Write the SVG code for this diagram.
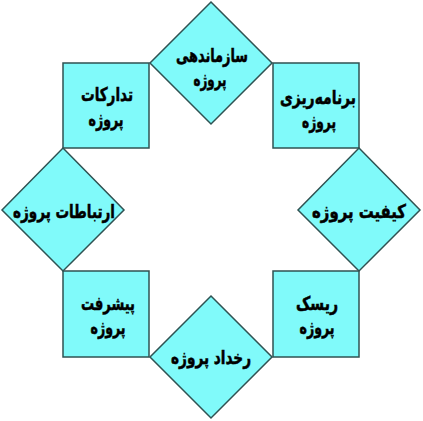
<svg xmlns="http://www.w3.org/2000/svg" width="423" height="421" viewBox="0 0 423 421">
<style>
.s{fill:#80FAFA;stroke:#2F5252;stroke-width:1.5}
.t{font-family:"DejaVu Sans Condensed","DejaVu Sans",sans-serif;font-weight:bold;font-size:19px;fill:#000;stroke:#000;stroke-width:0.5;text-anchor:middle;direction:rtl}
</style>
<rect width="423" height="421" fill="#fff"/>
<g id="connectors"></g>
<g id="n-top"><polygon class="s" points="211,2 272,63 211,124 150,63"/><text class="t" x="212" y="62" textLength="72" lengthAdjust="spacingAndGlyphs">سازماندهی</text><text class="t" x="210" y="86" textLength="33" lengthAdjust="spacingAndGlyphs">پروژه</text></g>
<g id="n-tr"><rect class="s" x="273" y="63" width="86" height="85"/><text class="t" x="318" y="104" textLength="76" lengthAdjust="spacingAndGlyphs">برنامه‌ریزی</text><text class="t" x="319" y="128" textLength="34" lengthAdjust="spacingAndGlyphs">پروژه</text></g>
<g id="n-right"><polygon class="s" points="359,148 420,210 359,271 298,210"/><text class="t" x="359" y="218" textLength="94" lengthAdjust="spacingAndGlyphs">کیفیت پروژه</text></g>
<g id="n-br"><rect class="s" x="273" y="271" width="86" height="86"/><text class="t" x="317" y="310" textLength="42" lengthAdjust="spacingAndGlyphs">ریسک</text><text class="t" x="317" y="334" textLength="35" lengthAdjust="spacingAndGlyphs">پروژه</text></g>
<g id="n-bottom"><polygon class="s" points="211,296 272,357 211,418 150,357"/><text class="t" x="211" y="364" textLength="80" lengthAdjust="spacingAndGlyphs">رخداد پروژه</text></g>
<g id="n-bl"><rect class="s" x="63" y="271" width="86" height="86"/><text class="t" x="108" y="310" textLength="54" lengthAdjust="spacingAndGlyphs">پیشرفت</text><text class="t" x="108" y="334" textLength="35" lengthAdjust="spacingAndGlyphs">پروژه</text></g>
<g id="n-left"><polygon class="s" points="63,148 124,210 63,271 2,210"/><text class="t" x="64" y="218" textLength="102" lengthAdjust="spacingAndGlyphs">ارتباطات پروژه</text></g>
<g id="n-tl"><rect class="s" x="63" y="63" width="86" height="85"/><text class="t" x="107" y="101" textLength="52" lengthAdjust="spacingAndGlyphs">تدارکات</text><text class="t" x="106" y="126" textLength="35" lengthAdjust="spacingAndGlyphs">پروژه</text></g>
</svg>
